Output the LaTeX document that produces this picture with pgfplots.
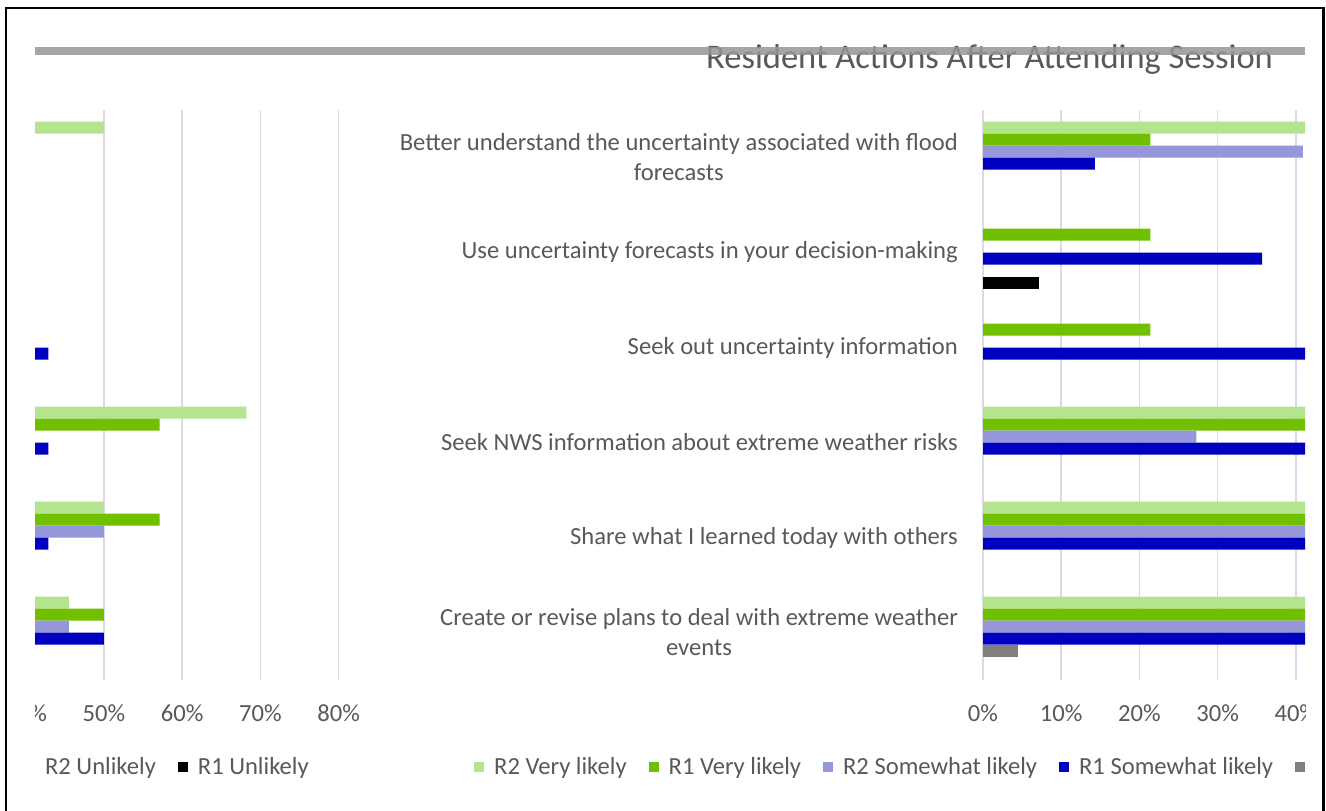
\documentclass[border=0pt]{standalone}
\usepackage{pgfplots}
\pgfplotsset{compat=1.18}
\usepackage{fontspec}
\setmainfont{Carlito}
\definecolor{txt}{RGB}{89,89,89}
\definecolor{cA}{RGB}{181,228,143}
\definecolor{cB}{RGB}{112,192,0}
\definecolor{cC}{RGB}{150,150,218}
\definecolor{cD}{RGB}{0,0,192}
\definecolor{cE}{RGB}{128,128,128}
\definecolor{cF}{RGB}{0,0,0}
\definecolor{gridc}{RGB}{217,217,232}
\definecolor{barc}{RGB}{150,150,150}
\newcommand\lab{\fontsize{24.6pt}{30pt}\selectfont}

\pgfplotsset{
  chart/.style={
    scale only axis, width=625.6pt, height=570pt, anchor=south west,
    xmin=0, xmax=80, ymin=0.5, ymax=6.5, y dir=reverse,
    xbar, bar width=12pt,
    axis line style={draw=none}, major tick length=0pt, tick style={draw=none},
    xmajorgrids, grid style={gridc, line width=1.5pt},
    xtick={0,10,20,30,40,50,60,70,80},
    xticklabels={0\%,10\%,20\%,30\%,40\%,50\%,60\%,70\%,80\%},
    xticklabel style={font=\lab, text=txt, inner sep=0pt, anchor=base, yshift=-41pt},
    ytick={1,2,3,4,5,6},
    yticklabels={{Better understand the uncertainty associated with flood\\forecasts},
      {Use uncertainty forecasts in your decision-making},
      {Seek out uncertainty information},
      {Seek NWS information about extreme weather risks},
      {Share what I learned today with others},
      {Create or revise plans to deal with extreme weather\\events}},
    yticklabel style={font=\lab, text=txt, align=center, inner sep=0pt, anchor=east, xshift=-25pt},
    legend columns=-1,
    legend style={draw=none, fill=none, inner sep=0pt, font=\lab, text=txt,
      at={(axis description cs:-0.8136,-0.1526)}, anchor=west,
      /tikz/every odd column/.append style={column sep=8pt},
      /tikz/every even column/.append style={column sep=20pt}},
    legend image code/.code={\fill[##1] (0pt,-5pt) rectangle (10pt,5pt);},
  }
}

\newcommand\chart[1]{%
\begin{axis}[chart, at={(#1,131pt)}]
\addplot[fill=cA, draw=none, bar shift=30pt] coordinates {(50,1) (68.2,4) (50,5) (45.5,6)};
\addlegendentry{R2 Very likely}
\addplot[fill=cB, draw=none, bar shift=18pt] coordinates {(21.4,1) (21.4,2) (21.4,3) (57.1,4) (57.1,5) (50,6)};
\addlegendentry{R1 Very likely}
\addplot[fill=cC, draw=none, bar shift=6pt] coordinates {(40.9,1) (27.3,4) (50,5) (45.5,6)};
\addlegendentry{R2 Somewhat likely}
\addplot[fill=cD, draw=none, bar shift=-6pt] coordinates {(14.3,1) (35.7,2) (42.9,3) (42.9,4) (42.9,5) (50,6)};
\addlegendentry{R1 Somewhat likely}
\addplot[fill=cE, draw=none, bar shift=-18pt] coordinates {(4.5,6)};
\addlegendentry{R2 Unlikely}
\addplot[fill=cF, draw=none, bar shift=-30pt] coordinates {(7.1,2)};
\addlegendentry{R1 Unlikely}
\end{axis}}

\begin{document}
\begin{tikzpicture}
\path[use as bounding box, fill=white] (0pt,0pt) rectangle (1326pt,811pt);
\begin{scope}
\clip (35pt,0pt) rectangle (1305pt,811pt);
\chart{983pt}
\chart{-287pt}
\end{scope}
\node[anchor=base west, font=\fontsize{34.5pt}{40pt}\selectfont, text=txt, inner sep=0pt] at (706pt,742pt) {Resident Actions After Attending Session};
\fill[barc, opacity=0.85] (35pt,756pt) rectangle (1305pt,764pt);
\draw[line width=2.5pt] (6pt,0pt) -- (6pt,803pt) -- (1323.5pt,803pt) -- (1323.5pt,0pt);
\end{tikzpicture}
\end{document}
